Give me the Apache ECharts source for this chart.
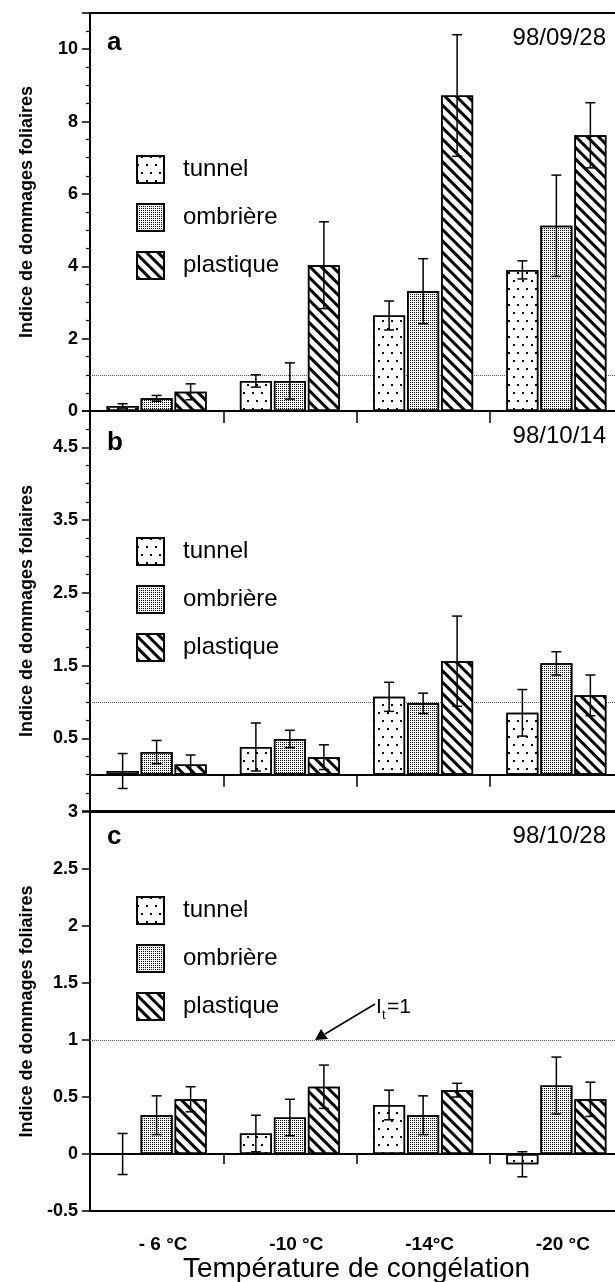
<!DOCTYPE html>
<html>
<head>
<meta charset="utf-8">
<script src="https://cdn.jsdelivr.net/npm/echarts@6/dist/echarts.min.js"></script>
<style>
  html, body { margin: 0; padding: 0; background: #fff; }
  #chart { width: 615px; height: 1282px; }
</style>
</head>
<body>
<div id="chart"></div>
<script>
// catégories (température de congélation)
const categories = ['- 6 °C', '-10 °C', '-14°C', '-20 °C'];
const treatments = ['tunnel', 'ombrière', 'plastique'];

// a : 98/09/28
const tunnelA = [0.14, 0.83, 2.64, 3.90];
const ombrA = [0.35, 0.83, 3.31, 5.12];
const plastA = [0.53, 4.03, 8.72, 7.62];
const errTunnelA = [0.06, 0.17, 0.40, 0.25];
const errOmbrA = [0.08, 0.50, 0.90, 1.40];
const errPlastA = [0.22, 1.20, 1.68, 0.90];

// b : 98/10/14
const tunnelB = [0.05, 0.38, 1.07, 0.85];
const ombrB = [0.31, 0.49, 0.98, 1.53];
const plastB = [0.14, 0.24, 1.56, 1.09];
const errTunnelB = [0.24, 0.33, 0.20, 0.32];
const errOmbrB = [0.16, 0.12, 0.14, 0.16];
const errPlastB = [0.13, 0.17, 0.62, 0.28];

// c : 98/10/28
const tunnelC = [0.00, 0.18, 0.43, -0.09];
const ombrC = [0.34, 0.32, 0.34, 0.60];
const plastC = [0.48, 0.59, 0.56, 0.48];
const errTunnelC = [0.18, 0.16, 0.13, 0.11];
const errOmbrC = [0.17, 0.16, 0.17, 0.25];
const errPlastC = [0.11, 0.19, 0.06, 0.15];

const dates = ['98/09/28', '98/10/14', '98/10/28'];
const panelLetters = ['a', 'b', 'c'];
const threshold = 1;

const FONT = 'Liberation Sans, Arial, sans-serif';
const BAR_W = 32;
const STEP = 34; // largeur barre + écart

// motifs des barres
const decals = [
  { symbol: 'rect', symbolSize: 1, color: '#000', dashArrayX: [[1.5, 6.5], [0, 4, 1.5, 2.5]], dashArrayY: [1.5, 5.5] },
  { symbol: 'rect', symbolSize: 1, color: '#000', dashArrayX: [1, 1], dashArrayY: [1, 1] },
  { symbol: 'rect', symbolSize: 1, color: '#000', dashArrayX: [1, 0], dashArrayY: [2.5, 5], rotation: Math.PI / 4 }
];

const panels = [
  { means: [tunnelA, ombrA, plastA], errs: [errTunnelA, errOmbrA, errPlastA], xAxis: 0 },
  { means: [tunnelB, ombrB, plastB], errs: [errTunnelB, errOmbrB, errPlastB], xAxis: 1 },
  { means: [tunnelC, ombrC, plastC], errs: [errTunnelC, errOmbrC, errPlastC], xAxis: 2 }
];

function errorRender(idx) {
  return function (params, api) {
    const lo = api.coord([api.value(0), api.value(1)]);
    const hi = api.coord([api.value(0), api.value(2)]);
    const x = lo[0] + (idx - 1) * STEP;
    const cap = 5;
    const st = { stroke: '#000', lineWidth: 1.5 };
    return {
      type: 'group',
      children: [
        { type: 'line', shape: { x1: x, y1: lo[1], x2: x, y2: hi[1] }, style: st },
        { type: 'line', shape: { x1: x - cap, y1: hi[1], x2: x + cap, y2: hi[1] }, style: st },
        { type: 'line', shape: { x1: x - cap, y1: lo[1], x2: x + cap, y2: lo[1] }, style: st }
      ]
    };
  };
}

const series = [];
panels.forEach((p, gi) => {
  treatments.forEach((name, si) => {
    const s = {
      type: 'bar', name: name,
      xAxisIndex: p.xAxis, yAxisIndex: gi,
      data: p.means[si],
      barWidth: BAR_W, barGap: '6.25%', z: 2,
      itemStyle: { color: '#fff', borderColor: '#000', borderWidth: 1.5, decal: decals[si] }
    };
    if (si === 0) {
      s.markLine = {
        z: 1, silent: true, symbol: 'none', label: { show: false },
        lineStyle: { type: 'dotted', color: '#555', width: 1 },
        data: [{ yAxis: threshold }]
      };
    }
    series.push(s);
  });
  treatments.forEach((name, si) => {
    series.push({
      type: 'custom', name: name + ' err',
      xAxisIndex: p.xAxis, yAxisIndex: gi, z: 5,
      data: p.means[si].map((m, i) => [i, m - p.errs[si][i], m + p.errs[si][i]]),
      renderItem: errorRender(si)
    });
  });
});

// la zone de tracé dépasse un peu à droite de la fenêtre
const grids = [
  { left: 90, width: 533, top: 13, height: 398 },
  { left: 90, width: 533, top: 411, height: 400 },
  { left: 90, width: 533, top: 812, height: 399 }
].map(g => Object.assign(g, {
  show: true, borderColor: '#000', borderWidth: 2, backgroundColor: 'transparent',
  containLabel: false, outerBoundsMode: 'none'
}));

function zeroXAxis(gi, tickLen) {
  return {
    type: 'category', gridIndex: gi, data: categories, position: 'bottom',
    axisLine: { onZero: true, lineStyle: { color: '#000', width: 2 } },
    axisTick: { show: true, length: tickLen, lineStyle: { color: '#000', width: 1.5 } },
    axisLabel: { show: false }, splitLine: { show: false }
  };
}

const yName = {
  name: 'Indice de dommages foliaires', nameLocation: 'middle', nameGap: 54,
  nameTextStyle: { fontFamily: FONT, fontWeight: 'bold', fontSize: 18, color: '#000' }
};
const yCommon = {
  type: 'value',
  axisLine: { show: true, onZero: false, lineStyle: { color: '#000', width: 2 } },
  axisTick: { show: true, length: 8, lineStyle: { color: '#000', width: 1.5 } },
  axisLabel: { margin: 12, fontFamily: FONT, fontWeight: 'bold', fontSize: 18, color: '#000' },
  splitLine: { show: false }
};

const yAxes = [
  Object.assign({}, yCommon, yName, {
    gridIndex: 0, min: 0, max: 11, interval: 2,
    minorTick: { show: true, splitNumber: 4, length: 4, lineStyle: { color: '#000', width: 1.2 } },
    axisLabel: Object.assign({}, yCommon.axisLabel, { formatter: v => (v <= 10 ? String(v) : '') })
  }),
  Object.assign({}, yCommon, yName, {
    gridIndex: 1, min: -0.5, max: 5, interval: 1,
    minorTick: { show: true, splitNumber: 4, length: 4, lineStyle: { color: '#000', width: 1.2 } },
    axisLabel: Object.assign({}, yCommon.axisLabel, { formatter: v => (v > 0 && v < 4.9 ? v.toFixed(1) : '') })
  }),
  Object.assign({}, yCommon, yName, {
    gridIndex: 2, min: -0.5, max: 3, interval: 0.5
  })
];

const xAxes = [
  zeroXAxis(0, 12),
  zeroXAxis(1, 12),
  zeroXAxis(2, 10),
  {
    type: 'category', gridIndex: 2, data: categories, position: 'bottom',
    axisLine: { show: false, onZero: false }, axisTick: { show: false },
    axisLabel: { margin: 24, padding: [0, 0, 0, 13], fontFamily: FONT, fontWeight: 'bold', fontSize: 19, color: '#000' },
    name: 'Température de congélation', nameLocation: 'middle', nameGap: 38,
    nameTextStyle: { fontFamily: FONT, fontSize: 28, color: '#000' }
  }
];

const legendTops = [150, 532, 891];
const legends = legendTops.map(t => ({
  orient: 'vertical', left: 131, top: t,
  itemWidth: 27, itemHeight: 27, itemGap: 19, icon: 'rect',
  selectedMode: false, data: treatments,
  textStyle: { fontFamily: FONT, fontSize: 24, color: '#000', padding: [0, 0, 0, 14] }
}));

const letterY = [44, 444, 838];
const dateY = [38.5, 436, 836];
const graphics = [];
panelLetters.forEach((l, i) => {
  graphics.push({ type: 'text', left: 107, top: letterY[i] - 14,
    style: { text: l, font: 'bold 26px ' + FONT, fill: '#000' } });
  graphics.push({ type: 'text', right: 9, top: dateY[i] - 12,
    style: { text: dates[i], font: '24px ' + FONT, fill: '#000' } });
});
// flèche I_t = 1
graphics.push({ type: 'line', shape: { x1: 375, y1: 1004, x2: 325, y2: 1034 }, style: { stroke: '#000', lineWidth: 1.5 } });
graphics.push({ type: 'polygon', shape: { points: [[315, 1040], [321, 1029], [328, 1039]] }, style: { fill: '#000' } });
graphics.push({ type: 'text', left: 376, top: 997, style: { text: 'I', font: '21px ' + FONT, fill: '#000' } });
graphics.push({ type: 'text', left: 382, top: 1009, style: { text: 't', font: '13px ' + FONT, fill: '#000' } });
graphics.push({ type: 'text', left: 387, top: 997, style: { text: '=1', font: '21px ' + FONT, fill: '#000' } });

const chart = echarts.init(document.getElementById('chart'));
chart.setOption({
  animation: false,
  backgroundColor: '#fff',
  textStyle: { fontFamily: FONT },
  grid: grids,
  xAxis: xAxes,
  yAxis: yAxes,
  legend: legends,
  graphic: graphics,
  series: series
});
</script>
</body>
</html>
